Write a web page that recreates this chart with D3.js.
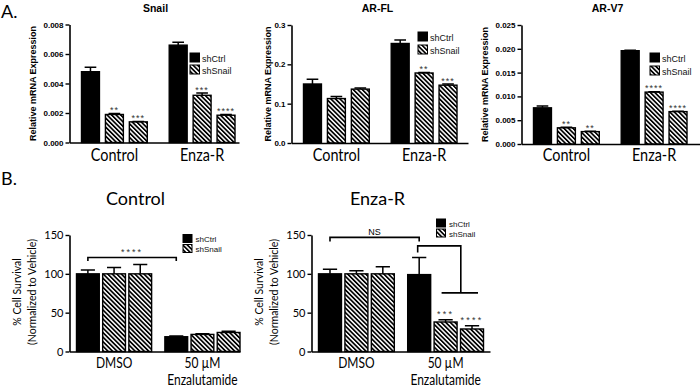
<!DOCTYPE html>
<html><head><meta charset="utf-8">
<script src="https://cdn.jsdelivr.net/npm/d3@7"></script>
<style>body{margin:0;background:#fff}svg{display:block}</style>
</head><body>
<svg id="c" width="700" height="389"></svg>
<script>
// ---------------- DATA ----------------
const aGroups = ["Control", "Enza-R"];
const seriesKeys = ["shCtrl", "shSnail-1", "shSnail-2"];
const legendNames = ["shCtrl", "shSnail"];

const snailMean = [[0.0048, 0.0019, 0.0014], [0.0066, 0.0032, 0.00185]];
const snailErr  = [[0.0003, 0.00006, 0.00003], [0.0002, 0.00015, 0.00004]];
const snailSig  = [["", "**", "***"], ["", "***", "****"]];
const snailTicks = [0, 0.002, 0.004, 0.006, 0.008];

const arflMean = [[0.150, 0.113, 0.137], [0.253, 0.178, 0.147]];
const arflErr  = [[0.012, 0.005, 0.003], [0.009, 0.001, 0.003]];
const arflSig  = [["", "", ""], ["", "**", "***"]];
const arflTicks = [0, 0.1, 0.2, 0.3];

const arv7Mean = [[0.0076, 0.0034, 0.0026], [0.0196, 0.0109, 0.0068]];
const arv7Err  = [[0.0004, 0.0001, 0.0001], [0.0001, 0.0001, 0.0001]];
const arv7Sig  = [["", "**", "**"], ["", "****", "****"]];
const arv7Ticks = [0, 0.005, 0.010, 0.015, 0.020, 0.025];

const bGroups = ["DMSO", "50 µM"];
const bGroupSub = ["", "Enzalutamide"];
const bTicks = [0, 50, 100, 150];
const ctrlSurv    = [[100, 100, 100], [19, 22, 24.5]];
const ctrlSurvErr = [[5, 8, 12], [0.8, 0.8, 1.5]];
const ctrlSig     = [["", "", ""], ["", "", ""]];
const enzaSurv    = [[100, 100, 100], [99, 38, 29]];
const enzaSurvErr = [[6, 4, 9], [22, 3, 4]];
const enzaSig     = [["", "", ""], ["", "***", "****"]];

// ---------------- DRAW ----------------
const svg = d3.select("#c");
const FA = "'Liberation Sans', Arial, sans-serif";
const FC = "Lato, 'Open Sans', sans-serif";
const defs = svg.append("defs");
const PS = 3.2;
const pat = defs.append("pattern").attr("id", "hatch")
  .attr("patternUnits", "userSpaceOnUse").attr("width", PS).attr("height", PS)
  .attr("patternTransform", "rotate(-45)");
pat.append("rect").attr("width", PS).attr("height", PS).attr("fill", "#fff");
pat.append("rect").attr("width", 1.7).attr("height", PS).attr("fill", "#000");

function text(g, x, y, s, o = {}) {
  const t = g.append("text")
    .attr("transform", `translate(${x},${y})` + (o.rot ? ` rotate(${o.rot})` : "") + (o.sx ? ` scale(${o.sx},1)` : ""))
    .attr("text-anchor", o.anchor || "middle")
    .attr("font-family", o.family || FA)
    .attr("font-size", o.size || 10)
    .attr("font-weight", o.weight || "normal")
    .attr("fill", o.fill || "#000")
    .text(s);
  if (o.dy) t.attr("dy", o.dy);
  if (o.ls) t.attr("letter-spacing", o.ls);
  return t;
}

function panel(o) {
  const g = svg.append("g");
  const y = d3.scaleLinear().domain([0, o.max]).range([o.yBot, o.yTop]);
  const x0 = d3.scaleBand().domain(o.groups).range([o.ax + o.b0, o.ax + o.b1]).paddingInner(o.pOut);
  const x1 = d3.scaleBand().domain(seriesKeys).range([0, x0.bandwidth()]).paddingInner(o.pIn);
  const rows = [];
  o.groups.forEach((gr, gi) => seriesKeys.forEach((s, si) => rows.push({
    gr, s, si, v: o.mean[gi][si], e: o.err[gi][si], sig: o.sig[gi][si]
  })));
  const bw = x1.bandwidth();
  g.selectAll("rect.bar").data(rows).join("rect").attr("class", "bar")
    .attr("x", d => x0(d.gr) + x1(d.s)).attr("width", bw)
    .attr("y", d => y(d.v)).attr("height", d => o.yBot - y(d.v))
    .attr("fill", d => d.si === 0 ? "#000" : "url(#hatch)")
    .attr("stroke", "#000").attr("stroke-width", 1.4);
  const cx = d => x0(d.gr) + x1(d.s) + bw / 2;
  const cap = bw * o.cap;
  g.selectAll("path.err").data(rows).join("path").attr("class", "err")
    .attr("d", d => `M${cx(d)},${y(d.v)}V${y(d.v + d.e)}M${cx(d) - cap / 2},${y(d.v + d.e)}H${cx(d) + cap / 2}`)
    .attr("stroke", "#000").attr("stroke-width", 1.5).attr("fill", "none");
  rows.filter(d => d.sig).forEach(d => {
    text(g, cx(d), y(d.v + d.e) - o.starGap, d.sig, { size: o.starSize, fill: "#333", ls: o.starLs });
  });
  const xl = d3.scaleLinear().range([o.ax, o.axEnd]);
  g.append("g").attr("transform", `translate(0,${o.yBot})`)
    .call(d3.axisBottom(xl).tickValues([]).tickSizeOuter(0))
    .call(a => a.select(".domain").attr("stroke-width", 1.6));
  const ya = g.append("g").attr("transform", `translate(${o.ax},0)`)
    .call(d3.axisLeft(y).tickValues(o.ticks).tickSize(4).tickSizeOuter(0).tickPadding(2).tickFormat(d3.format(o.fmt)));
  ya.select(".domain").attr("stroke-width", 1.6);
  ya.selectAll(".tick line").attr("stroke-width", 1.4);
  ya.selectAll(".tick text").attr("font-family", o.tickFamily).attr("font-size", o.tickSize)
    .attr("font-weight", o.tickWeight).attr("fill", "#000");
  return { g, x0, x1, y, bw };
}

function legend(x, y, gap, sw, sh, size, tx) {
  const g = svg.append("g");
  legendNames.forEach((n, i) => {
    g.append("rect").attr("x", x).attr("y", y + i * gap).attr("width", sw).attr("height", sh)
      .attr("fill", i === 0 ? "#000" : "url(#hatch)").attr("stroke", "#000").attr("stroke-width", 1);
    text(g, x + tx, y + i * gap + sh - 0.5, n, { anchor: "start", size, fill: "#111" });
  });
}

// ---- Panel A ----
text(svg, 1, 18, "A.", { anchor: "start", family: FC, size: 18 });
const aPanels = [
  { title: "Snail", ax: 69.5, axEnd: 239, yTop: 24.5, yBot: 142.5, max: 0.008, ticks: snailTicks, fmt: ".3f",
    mean: snailMean, err: snailErr, sig: snailSig, ylab: 33, leg: [120.5, 53, 12] },
  { title: "AR-FL", ax: 291.5, axEnd: 468, yTop: 25, yBot: 143, max: 0.3, ticks: arflTicks, fmt: ".1f",
    mean: arflMean, err: arflErr, sig: arflSig, ylab: 267.5, leg: [126.5, 32, 13] },
  { title: "AR-V7", ax: 521.5, axEnd: 700, yTop: 25, yBot: 144, max: 0.025, ticks: arv7Ticks, fmt: ".3f",
    mean: arv7Mean, err: arv7Err, sig: arv7Sig, ylab: 485, leg: [128.5, 53, 13] }
];
aPanels.forEach(p => {
  const r = panel(Object.assign({ groups: aGroups, b0: 12, b1: 165.5, pOut: 0.25, pIn: 0.25, cap: 0.65,
    starGap: 0.5, starSize: 9, starLs: 1, tickFamily: FA, tickSize: 8, tickWeight: "bold" }, p));
  text(svg, p.ax + 86, 11.5, p.title, { size: 10.5, weight: "bold" });
  text(svg, p.ylab, (p.yTop + p.yBot) / 2, "Relative mRNA Expression", { rot: -90, size: 9, weight: "bold", dy: "0.35em" });
  aGroups.forEach(gr => text(svg, r.x0(gr) + r.x0.bandwidth() / 2, 160.5, gr, { family: FC, size: 17, sx: 0.85 }));
  legend(p.ax + p.leg[0], p.leg[1], p.leg[2], 9.5, 9, 9, 12);
});

// ---- Panel B ----
text(svg, 1, 185, "B.", { anchor: "start", family: FC, size: 18 });
const bPanels = [
  { title: "Control", ax: 69.5, axEnd: 240, mean: ctrlSurv, err: ctrlSurvErr, sig: ctrlSig, b1: 170.5, leg: [113.5, 234.5] },
  { title: "Enza-R", ax: 311.5, axEnd: 490, mean: enzaSurv, err: enzaSurvErr, sig: enzaSig, b1: 172, leg: [125, 219] }
];
const bRes = bPanels.map(p => {
  const r = panel(Object.assign({ groups: bGroups, yTop: 235, yBot: 351.5, max: 150, ticks: bTicks, fmt: "d",
    b0: 7, pOut: 0.15, pIn: 0.13, cap: 0.62, starGap: 2.5, starSize: 9, starLs: 2.2,
    tickFamily: FC, tickSize: 11, tickWeight: "normal" }, p));
  text(svg, p.ax + 66, 205, p.title, { family: FC, size: 18 });
  text(svg, p.ax - 52, 292, "% Cell Survival", { rot: -90, family: FC, size: 10.5, dy: "0.35em" });
  text(svg, p.ax - 36.8, 292, "(Normalized to Vehicle)", { rot: -90, family: FC, size: 10.5, dy: "0.35em" });
  bGroups.forEach((gr, i) => {
    const cx = r.x0(gr) + r.x0.bandwidth() / 2;
    text(svg, cx, 367.5, gr, { family: FC, size: 15, sx: 0.8 });
    if (bGroupSub[i]) text(svg, cx, 385, bGroupSub[i], { family: FC, size: 15, sx: 0.8 });
  });
  legend(p.ax + p.leg[0], p.leg[1], 10, 9, 8, 8, 12.5);
  return r;
});

function center(r, gi, si) { return r.x0(bGroups[gi]) + r.x1(seriesKeys[si]) + r.bw / 2; }
const lineStyle = sel => sel.attr("stroke", "#000").attr("stroke-width", 1.6).attr("fill", "none");
{
  const r = bRes[0], a = center(r, 0, 0), b = center(r, 1, 0), yy = r.y(121), yd = r.y(116.5);
  lineStyle(svg.append("path").attr("d", `M${a},${yd}V${yy}H${b}V${yd}`));
  text(svg, (a + b) / 2, yy - 2.5, "****", { size: 9, fill: "#333", ls: 2 });
}
{
  const r = bRes[1], a = center(r, 0, 0), b = center(r, 1, 0), yy = r.y(147), yd = r.y(141.5);
  lineStyle(svg.append("path").attr("d", `M${a},${yd}V${yy}H${b}V${yd}`));
  text(svg, (a + b) / 2, yy - 2.5, "NS", { size: 9 });
  const s1 = center(r, 1, 1), s2 = center(r, 1, 2), mid = (s1 + s2) / 2;
  const yTopB = r.y(136), yStub = r.y(127.5), yLow = r.y(75.5);
  lineStyle(svg.append("path").attr("d", `M${b - 1.5},${yStub}V${yTopB}H${mid + 2}V${yLow}`));
  lineStyle(svg.append("path").attr("d", `M${s1 - 4},${yLow}H${s2 + 6}`));
}
</script>
</body></html>
